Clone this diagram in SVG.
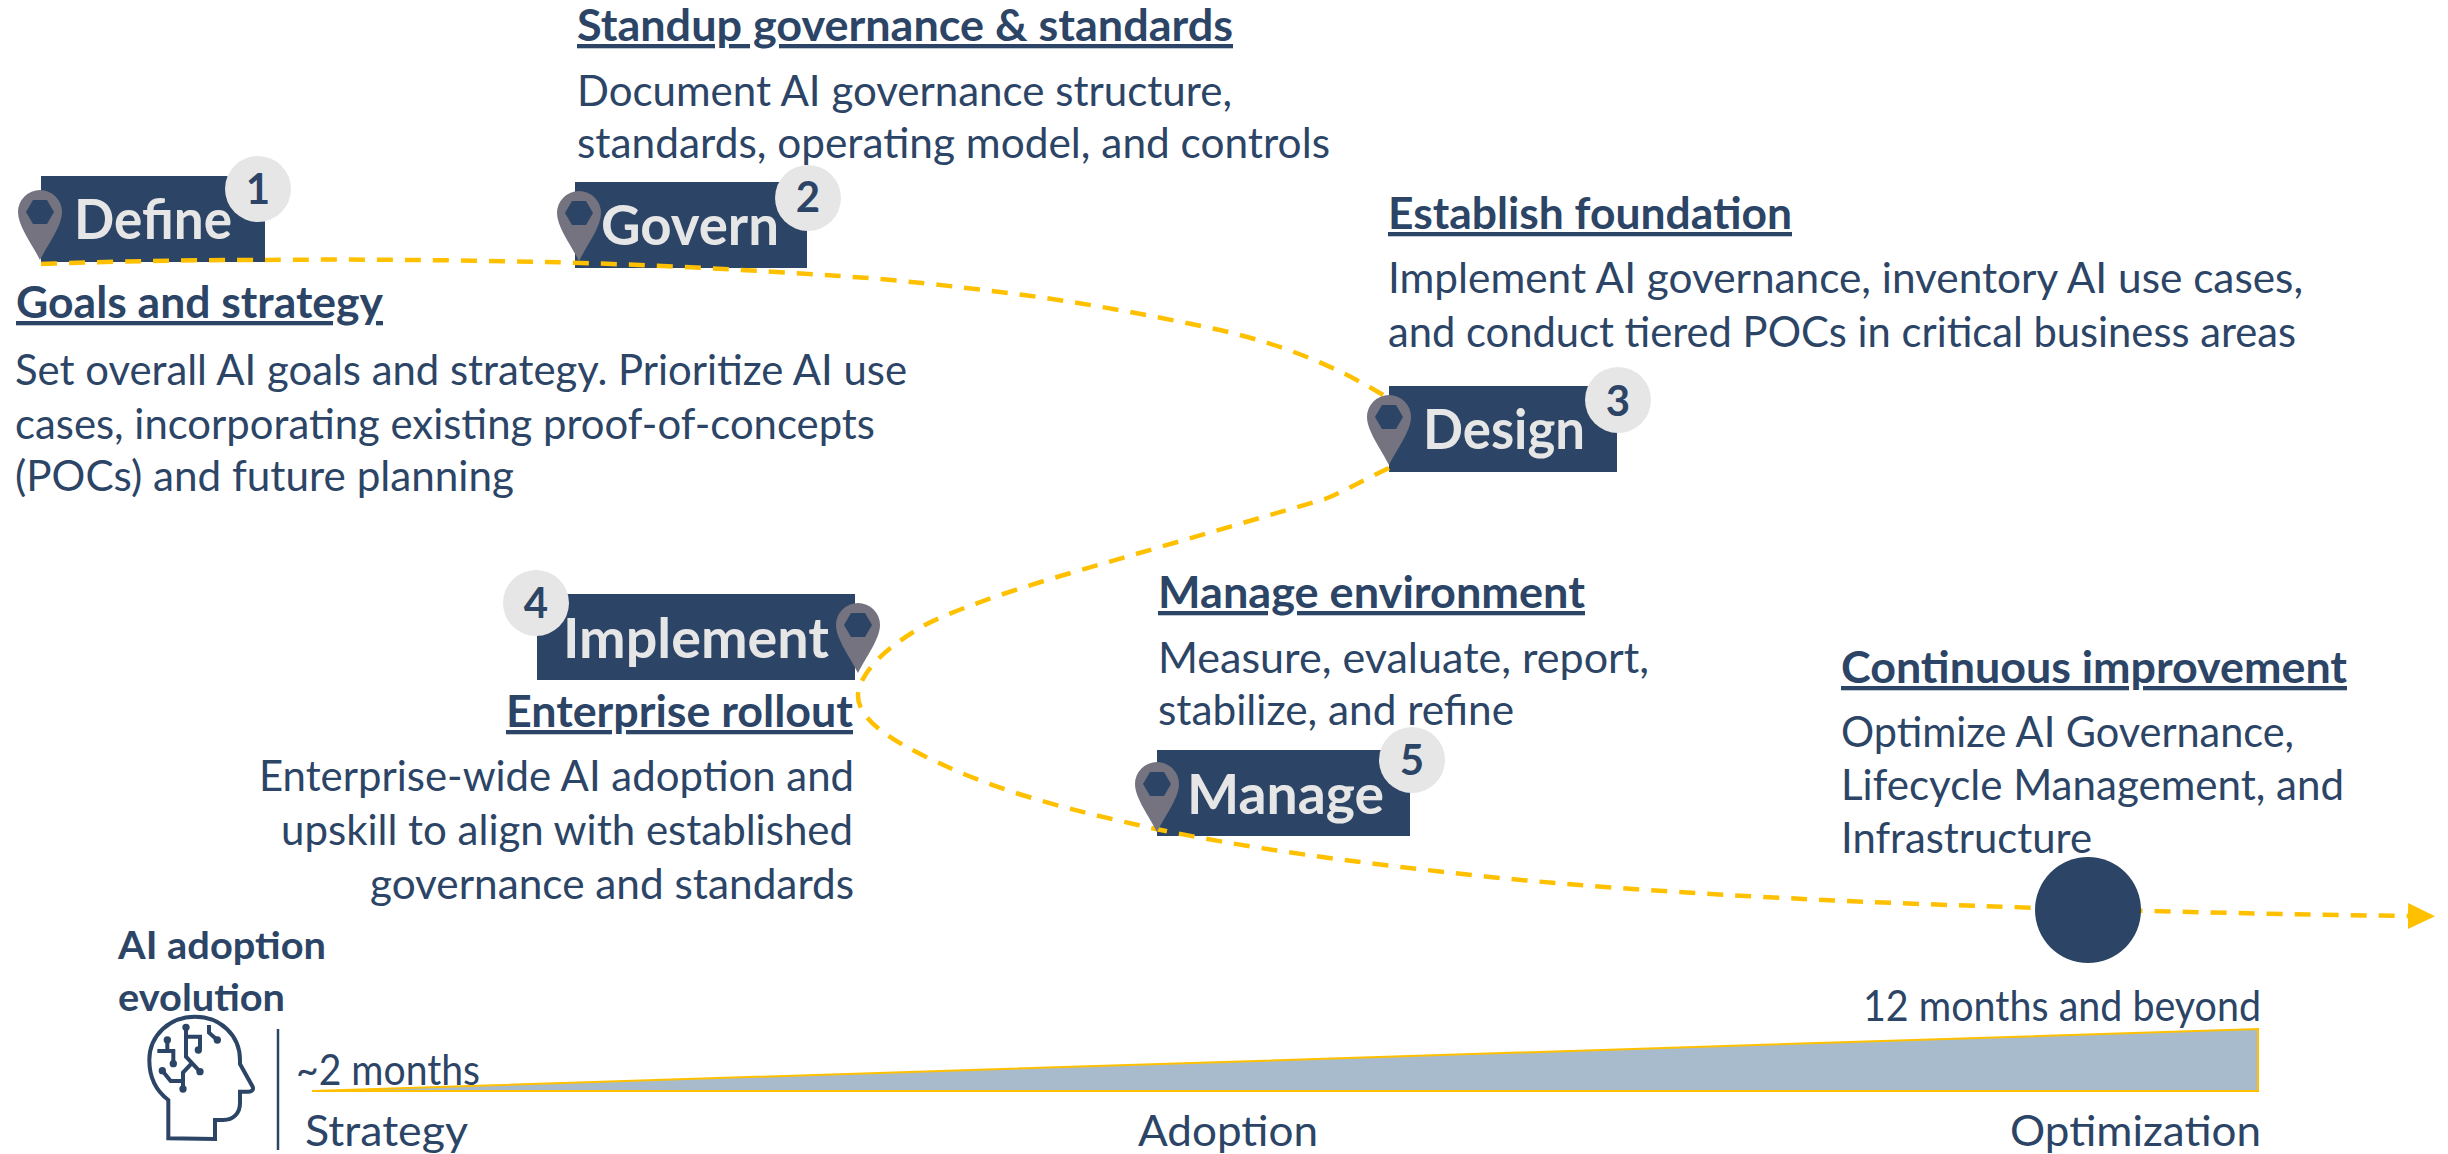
<svg xmlns="http://www.w3.org/2000/svg" width="2448" height="1154" viewBox="0 0 2448 1154">
<style>
text{font-family:"Lato","Open Sans","Liberation Sans",sans-serif;fill:#2c4566}
.b{font-size:42px}
.h{font-size:43px;font-weight:700;text-decoration:underline}
.l{font-size:56px;font-weight:700;fill:#e7e6e6}
.n{font-size:42px;font-weight:700;text-anchor:middle}
.t{font-size:38px;font-weight:700}
.box{fill:#2c4566}
.badge{fill:#e7e6e6}
.dash{fill:none;stroke:#ffc000;stroke-width:4.5;stroke-dasharray:16 12}
.ic{fill:none;stroke:#2c4566;stroke-width:12}
</style>
<defs>
<g id="pin"><path d="M0,0C-8,-16 -22,-34 -22,-48A22,22 0 1 1 22,-48C22,-34 8,-16 0,0Z" fill="#74737f"/><path d="M-14,-48L-7,-60H7L14,-48L7,-36H-7Z" fill="#2c4566"/></g>
<marker id="arr" markerUnits="userSpaceOnUse" markerWidth="28" markerHeight="28" refX="0" refY="14" orient="auto"><path d="M0,1L27,14L0,27Z" fill="#ffc000"/></marker>
</defs>
<g id="box-layer">
<rect class="box" x="41" y="176" width="224" height="86"/>
<rect class="box" x="575" y="182" width="232" height="86"/>
<rect class="box" x="1389" y="386" width="228" height="86"/>
<rect class="box" x="537" y="594" width="318" height="86"/>
<rect class="box" x="1157" y="750" width="253" height="86"/>
</g>
<g id="connectors">
<path class="dash" d="M41,264C120,261 200,260 265,260C350,259 450,260 545,262C640,264 750,270 840,276C900,280 950,286 1000,292C1075,301 1150,315 1220,330C1280,344 1335,365 1388,398"/>
<path class="dash" d="M1389,468C1360,482 1340,493 1325,499L1057,577C1000,594 950,612 925,625C890,645 860,670 858,695C857,725 910,750 950,768C1010,795 1080,812 1138,825C1240,848 1360,863 1490,877C1650,893 1850,902 1980,906C2100,910 2250,914 2408,916" marker-end="url(#arr)"/>
</g>
<g id="node-define"><use href="#pin" x="40" y="260"/><text class="l" x="74" y="239" textLength="158" lengthAdjust="spacingAndGlyphs">Define</text><circle class="badge" cx="258" cy="189" r="33"/><text class="n" x="258" y="204">1</text></g>
<g id="node-govern"><use href="#pin" x="579" y="261"/><text class="l" x="601" y="245" textLength="178" lengthAdjust="spacingAndGlyphs">Govern</text><circle class="badge" cx="808" cy="198" r="33"/><text class="n" x="808" y="212">2</text></g>
<g id="node-design"><use href="#pin" x="1389" y="465"/><text class="l" x="1423" y="449" textLength="162" lengthAdjust="spacingAndGlyphs">Design</text><circle class="badge" cx="1618" cy="400" r="33"/><text class="n" x="1618" y="416">3</text></g>
<g id="node-implement"><use href="#pin" x="858" y="673"/><text class="l" x="563" y="658" textLength="266" lengthAdjust="spacingAndGlyphs">Implement</text><circle class="badge" cx="536" cy="603" r="33"/><text class="n" x="536" y="618">4</text></g>
<g id="node-manage"><use href="#pin" x="1157" y="832"/><text class="l" x="1187" y="814" textLength="197" lengthAdjust="spacingAndGlyphs">Manage</text><circle class="badge" cx="1412" cy="760" r="33"/><text class="n" x="1412" y="775">5</text></g>
<g id="node-milestone"><text class="b" x="1841" y="853" textLength="251" lengthAdjust="spacingAndGlyphs">Infrastructure</text><circle class="box" cx="2088" cy="910" r="53"/></g>
<g id="labels">
<text class="h" x="577" y="41" textLength="656" lengthAdjust="spacingAndGlyphs">Standup governance &amp; standards</text>
<text class="b" x="577" y="106" textLength="655" lengthAdjust="spacingAndGlyphs">Document AI governance structure,</text>
<text class="b" x="577" y="158" textLength="753" lengthAdjust="spacingAndGlyphs">standards, operating model, and controls</text>
<text class="h" x="1388" y="229" textLength="404" lengthAdjust="spacingAndGlyphs">Establish foundation</text>
<text class="b" x="1388" y="293" textLength="915" lengthAdjust="spacingAndGlyphs">Implement AI governance, inventory AI use cases,</text>
<text class="b" x="1388" y="347" textLength="908" lengthAdjust="spacingAndGlyphs">and conduct tiered POCs in critical business areas</text>
<text class="h" x="16" y="318" textLength="367" lengthAdjust="spacingAndGlyphs">Goals and strategy</text>
<text class="b" x="15" y="385" textLength="892" lengthAdjust="spacingAndGlyphs">Set overall AI goals and strategy. Prioritize AI use</text>
<text class="b" x="15" y="439" textLength="860" lengthAdjust="spacingAndGlyphs">cases, incorporating existing proof-of-concepts</text>
<text class="b" x="15" y="491" textLength="499" lengthAdjust="spacingAndGlyphs">(POCs) and future planning</text>
<text class="h" x="506" y="727" textLength="347" lengthAdjust="spacingAndGlyphs">Enterprise rollout</text>
<text class="b" x="259" y="791" textLength="595" lengthAdjust="spacingAndGlyphs">Enterprise-wide AI adoption and</text>
<text class="b" x="281" y="845" textLength="572" lengthAdjust="spacingAndGlyphs">upskill to align with established</text>
<text class="b" x="370" y="899" textLength="484" lengthAdjust="spacingAndGlyphs">governance and standards</text>
<text class="h" x="1158" y="608" textLength="427" lengthAdjust="spacingAndGlyphs">Manage environment</text>
<text class="b" x="1158" y="673" textLength="491" lengthAdjust="spacingAndGlyphs">Measure, evaluate, report,</text>
<text class="b" x="1158" y="725" textLength="356" lengthAdjust="spacingAndGlyphs">stabilize, and refine</text>
<text class="h" x="1841" y="683" textLength="506" lengthAdjust="spacingAndGlyphs">Continuous improvement</text>
<text class="b" x="1841" y="747" textLength="453" lengthAdjust="spacingAndGlyphs">Optimize AI Governance,</text>
<text class="b" x="1841" y="800" textLength="503" lengthAdjust="spacingAndGlyphs">Lifecycle Management, and</text>
</g>
<g id="timeline">
<path d="M312,1091L2258,1029V1091Z" fill="#a8bbcd" stroke="#ffc000" stroke-width="2"/>
<text class="t" x="118" y="959" textLength="208" lengthAdjust="spacingAndGlyphs">AI adoption</text>
<text class="t" x="118" y="1011" textLength="167" lengthAdjust="spacingAndGlyphs">evolution</text>
<text class="b" x="296" y="1085" textLength="184" lengthAdjust="spacingAndGlyphs">~2 months</text>
<text class="b" x="1863" y="1021" textLength="398" lengthAdjust="spacingAndGlyphs">12 months and beyond</text>
<text class="b" x="305" y="1146" textLength="163" lengthAdjust="spacingAndGlyphs">Strategy</text>
<text class="b" x="1138" y="1146" textLength="180" lengthAdjust="spacingAndGlyphs">Adoption</text>
<text class="b" x="2010" y="1146" textLength="251" lengthAdjust="spacingAndGlyphs">Optimization</text>
<path d="M278,1029V1150" stroke="#2c4566" stroke-width="2.5" fill="none"/>
<g transform="translate(100 920) scale(.3333)">
<path class="ic" d="M205,655V540C165,510 148,470 148,420C148,345 210,290 285,290C360,290 420,345 420,420V432L458,500C462,510 455,515 445,515H420V550C420,580 400,600 370,600H345V657Z"/>
<path class="ic" d="M202,360V393M172,393H220V430M258,322V410L300,455M258,350H300V390M275,430L249,458V507M187,452L212,483H249M327,315V338L352,360"/>
<g fill="#2c4566"><circle cx="202" cy="360" r="11"/><circle cx="220" cy="431" r="11"/><circle cx="187" cy="452" r="11"/><circle cx="249" cy="507" r="11"/><circle cx="300" cy="455" r="11"/><circle cx="295" cy="390" r="11"/><circle cx="258" cy="322" r="11"/><circle cx="352" cy="360" r="11"/></g>
</g>
</g>
</svg>
